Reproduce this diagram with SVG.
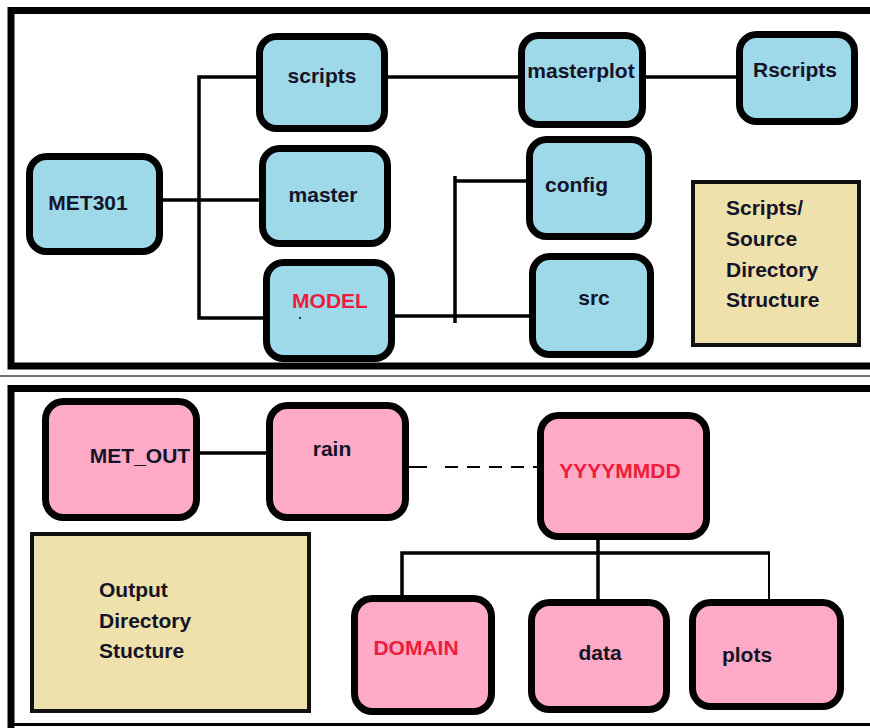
<svg xmlns="http://www.w3.org/2000/svg" width="870" height="728" viewBox="0 0 870 728">
<style>
.panel{fill:none;stroke:#000;stroke-width:7}
.nb{fill:#9ed9ea;stroke:#000;stroke-width:7}
.np{fill:#ffaac6;stroke:#000;stroke-width:7}
.lg{fill:#eee1ab;stroke:#111;stroke-width:4}
.c{fill:none;stroke:#000;stroke-width:3.5}
.thin{fill:none;stroke:#000;stroke-width:2}
text{font-family:"Liberation Sans",Arial,sans-serif;font-weight:bold;font-size:21px;fill:#141428}
.r{fill:#ee1c3a}
.m{text-anchor:middle}
</style>
<rect width="870" height="728" fill="#fff"/>
<g id="panels">
<rect class="panel" x="11" y="10.5" width="900" height="355.5"/>
<line x1="0" y1="376" x2="870" y2="376" stroke="#444" stroke-width="1.5"/>
<path class="panel" d="M880 388.5 H11 V728"/>
<line x1="11" y1="724.5" x2="870" y2="724.5" stroke="#000" stroke-width="3"/>
</g>
<g id="connectors">
<path class="c" d="M259 77 H199 V318 H266"/>
<path class="c" d="M163 200 H262"/>
<path class="c" d="M388 77 H521"/>
<path class="c" d="M646 77 H739"/>
<path class="c" d="M395 316 H541"/>
<path class="c" d="M455 176 V323"/>
<path class="c" d="M455 181 H542"/>
<path class="c" d="M200 453 H272"/>
<path class="thin" d="M409 467 H427"/>
<path class="thin" d="M445 467 H545" stroke-dasharray="13 9"/>
<path class="c" d="M598 540 V608"/>
<path class="c" d="M402 597 V553 H770"/>
<path class="thin" d="M769 553 V599"/>
</g>
<g id="MET301"><rect class="nb" x="29.5" y="156.5" width="130" height="95" rx="17"/><text x="88" y="210" class="m">MET301</text></g>
<g id="scripts"><rect class="nb" x="259.5" y="36.5" width="125" height="92" rx="17"/><text x="322" y="83" class="m">scripts</text></g>
<g id="master"><rect class="nb" x="262.5" y="148.5" width="125" height="95" rx="17"/><text x="323" y="202" class="m">master</text></g>
<g id="MODEL"><rect class="nb" x="266.5" y="262.5" width="125" height="96" rx="17"/><text x="330" y="308" class="m r">MODEL</text><circle cx="300" cy="318" r="1" fill="#000"/></g>
<g id="masterplot"><rect class="nb" x="521.5" y="35.5" width="121" height="89" rx="17"/><text x="581" y="78" class="m">masterplot</text></g>
<g id="Rscripts"><rect class="nb" x="739.5" y="34.5" width="115" height="87" rx="17"/><text x="795" y="77" class="m">Rscripts</text></g>
<g id="config"><rect class="nb" x="529.5" y="139.5" width="119" height="97" rx="17"/><text x="545" y="192">config</text></g>
<g id="src"><rect class="nb" x="532.5" y="256.5" width="118" height="98" rx="17"/><text x="594" y="305" class="m">src</text></g>
<g id="legend-scripts"><rect class="lg" x="693" y="182" width="166" height="163"/>
<text x="726" y="215">Scripts/</text><text x="726" y="246">Source</text><text x="726" y="277">Directory</text><text x="726" y="307">Structure</text></g>
<g id="MET_OUT"><rect class="np" x="45.5" y="401.5" width="151" height="116" rx="18"/><text x="140" y="463" class="m">MET_OUT</text></g>
<g id="rain"><rect class="np" x="269.5" y="405.5" width="136" height="112" rx="18"/><text x="332" y="456" class="m">rain</text></g>
<g id="YYYYMMDD"><rect class="np" x="540.5" y="415.5" width="166" height="121" rx="18"/><text x="620" y="478" class="m r">YYYYMMDD</text></g>
<g id="DOMAIN"><rect class="np" x="354.5" y="598.5" width="137" height="113" rx="18"/><text x="416" y="655" class="m r">DOMAIN</text></g>
<g id="data"><rect class="np" x="531.5" y="602.5" width="135" height="107" rx="18"/><text x="600" y="660" class="m">data</text></g>
<g id="plots"><rect class="np" x="692.5" y="602.5" width="148" height="104" rx="18"/><text x="747" y="662" class="m">plots</text></g>
<g id="legend-output"><rect class="lg" x="32" y="534" width="277" height="177"/>
<text x="99" y="597">Output</text><text x="99" y="628">Directory</text><text x="99" y="658">Stucture</text></g>
</svg>
